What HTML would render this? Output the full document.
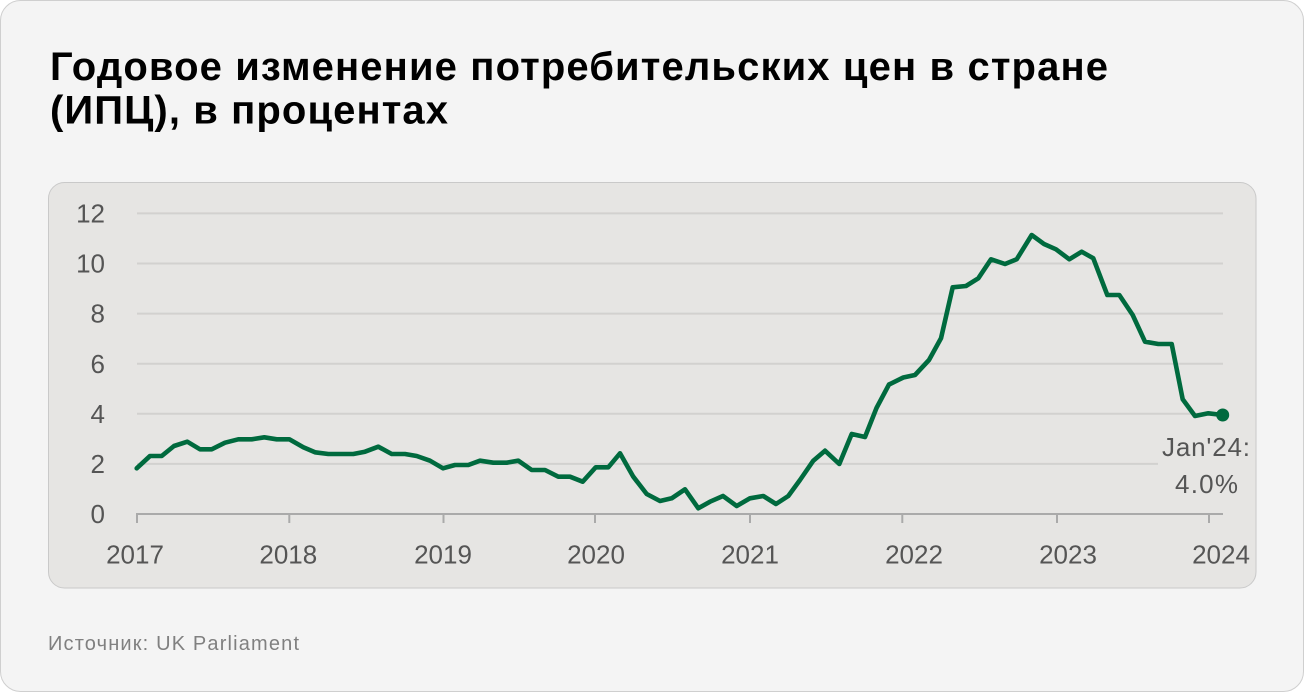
<!DOCTYPE html>
<html><head><meta charset="utf-8"><style>
html,body{margin:0;padding:0;background:#fff;}
svg{display:block;}
text{font-family:"Liberation Sans","Noto Sans CJK SC",sans-serif;}
</style></head><body>
<svg width="1305" height="693" viewBox="0 0 1305 693" xmlns="http://www.w3.org/2000/svg">
<rect x="0.5" y="0.5" width="1303" height="691" rx="20" ry="20" fill="#f4f4f4" stroke="#cfcfcf" stroke-width="1"/>
<text x="50" y="80" font-size="40" font-weight="bold" fill="#000" textLength="1058">Годовое изменение потребительских цен в стране</text>
<text x="50" y="123.5" font-size="40" font-weight="bold" fill="#000" textLength="398">(ИПЦ), в процентах</text>
<rect x="48.5" y="182.5" width="1207.5" height="405.5" rx="16" ry="16" fill="#e6e5e3" stroke="#c9c9c9" stroke-width="1"/>
<g stroke="#d2d1cf" stroke-width="2">
<line x1="137" y1="213.4" x2="1223" y2="213.4"/>
<line x1="137" y1="263.5" x2="1223" y2="263.5"/>
<line x1="137" y1="313.6" x2="1223" y2="313.6"/>
<line x1="137" y1="363.7" x2="1223" y2="363.7"/>
<line x1="137" y1="413.8" x2="1223" y2="413.8"/>
<line x1="137" y1="463.9" x2="1158" y2="463.9"/>
</g>
<g fill="#555" font-size="26" text-anchor="end">
<text x="105" y="222.5">12</text>
<text x="105" y="272.6">10</text>
<text x="105" y="322.7">8</text>
<text x="105" y="372.8">6</text>
<text x="105" y="422.9">4</text>
<text x="105" y="473">2</text>
<text x="105" y="523.1">0</text>
</g>
<g stroke="#aaa" stroke-width="2" fill="none">
<line x1="136" y1="514" x2="1223" y2="514"/>
<line x1="137" y1="514" x2="137" y2="523"/>
<line x1="289.3" y1="514" x2="289.3" y2="523"/>
<line x1="443.5" y1="514" x2="443.5" y2="523"/>
<line x1="595" y1="514" x2="595" y2="523"/>
<line x1="750" y1="514" x2="750" y2="523"/>
<line x1="902.3" y1="514" x2="902.3" y2="523"/>
<line x1="1057" y1="514" x2="1057" y2="523"/>
<line x1="1209" y1="514" x2="1209" y2="523"/>
</g>
<g fill="#555" font-size="26" text-anchor="middle">
<text x="135" y="563.5">2017</text>
<text x="288.3" y="563.5">2018</text>
<text x="443" y="563.5">2019</text>
<text x="596" y="563.5">2020</text>
<text x="750" y="563.5">2021</text>
<text x="914" y="563.5">2022</text>
<text x="1068" y="563.5">2023</text>
<text x="1221" y="563.5">2024</text>
</g>
<polyline fill="none" stroke="#006a3e" stroke-width="4.6" stroke-linejoin="round" stroke-linecap="round" points="136.7,468.3 150,456 161.7,456 174,446 187.3,441.7 200,449.3 211.7,449.3 225,442.7 238.3,439.3 251.7,439.3 264.3,437.3 276.7,439.3 289.3,439.3 303.3,447.3 315,452.3 328.3,454 340,454 353.3,454 365,451.7 378.3,446.7 391.7,454 405,454 416.7,456 430,460.7 443,468.3 455,465 468.3,465 480,460.7 493.3,462.7 506.7,462.7 518.3,460.7 531.7,470 545,470 558.3,476.7 570,476.7 582.7,481.7 595.7,467.3 608.3,467.3 620,453.3 633.3,476.7 646.7,494 660,501 671.7,498.3 685,489.3 698.3,508.3 710,501.7 723,496 736.7,506 750,498.3 763.3,496 776,504 788.3,496 800,480 813.3,460.7 825,450.7 839.3,464 851.7,434 865,437 876.5,408 889,384.5 903.3,377.5 915,375 929,360 941,338.3 952.7,287.3 966,286 978.3,278.3 991,259.3 1005,264 1016.7,259.3 1031.7,235 1044,244 1056,249.3 1069.3,259.3 1081.7,251.7 1093.3,258.3 1107.3,295 1119.3,295 1132.7,315 1145,341.7 1158.3,344 1171.7,344 1182.7,399.3 1195,416 1208.3,413.3 1222.7,415"/>
<circle cx="1222.7" cy="415" r="6.5" fill="#006a3e"/>
<g fill="#555" font-size="26" text-anchor="middle">
<text x="1206" y="456" textLength="88">Jan'24:</text>
<text x="1206.5" y="493" textLength="63">4.0%</text>
</g>
<text x="48" y="650" font-size="20" fill="#808080" textLength="251">Источник: UK Parliament</text>
</svg>
</body></html>
